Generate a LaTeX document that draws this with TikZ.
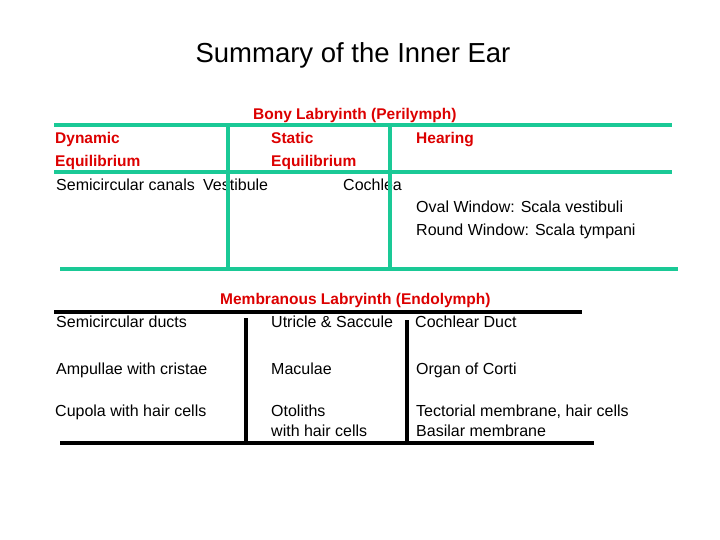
\documentclass[tikz,border=0pt]{standalone}
\usepackage{fontspec}
\setmainfont{Liberation Sans}
\definecolor{tgreen}{RGB}{26,201,150}
\definecolor{tred}{RGB}{220,0,0}
\begin{document}
\begin{tikzpicture}[x=1pt,y=-1pt,
  txt/.style={anchor=base west,inner sep=0pt,font=\fontsize{16}{18}\selectfont},
  rtxt/.style={anchor=base west,inner sep=0pt,text=tred,font=\fontsize{15.5}{18}\selectfont\bfseries},
  gline/.style={draw=tgreen,line width=4pt},
  bline/.style={draw=black,line width=4pt}]
\useasboundingbox (0,0) rectangle (720,540);
\node[anchor=base,inner sep=0pt,font=\fontsize{27.5}{32}\selectfont] (title) at (353,63) {Summary of the Inner Ear};
% bony
\node[rtxt] (bony) at (253,120) {Bony Labryinth (Perilymph)};
\node[rtxt] (dyn) at (55,144) {Dynamic};
\node[rtxt] (eq1) at (55,167) {Equilibrium};
\node[rtxt] (stat) at (271,144) {Static};
\node[rtxt] (eq2) at (271,167) {Equilibrium};
\node[rtxt] (hear) at (416,144) {Hearing};
\node[txt] (scc) at (56,191) {Semicircular canals};
\node[txt] (vest) at (203,191) {Vestibule};
\node[txt] (coch) at (343,191) {Cochlea};
\node[txt] (oval) at (416,213) {Oval Window: Scala vestibuli};
\node[txt] (round) at (416,236) {Round Window: Scala tympani};
% green lines
\coordinate (g1a) at (54,125); \coordinate (g1b) at (672,125);
\coordinate (g2a) at (54,172); \coordinate (g2b) at (672,172);
\coordinate (g3a) at (60,269); \coordinate (g3b) at (678,269);
\coordinate (gv1a) at (228,125); \coordinate (gv1b) at (228,268);
\coordinate (gv2a) at (390,127); \coordinate (gv2b) at (390,268);
\draw[gline] (g1a) -- (g1b);
\draw[gline] (g2a) -- (g2b);
\draw[gline] (g3a) -- (g3b);
\draw[gline] (gv1a) -- (gv1b);
\draw[gline] (gv2a) -- (gv2b);
% membranous
\node[rtxt] (memb) at (220,304) {Membranous Labryinth (Endolymph)};
\node[txt] (scd) at (56,327) {Semicircular ducts};
\node[txt] (us) at (271,327) {Utricle \& Saccule};
\node[txt] (cd) at (415,327) {Cochlear Duct};
\node[txt] (amp) at (56,374) {Ampullae with cristae};
\node[txt] (mac) at (271,374) {Maculae};
\node[txt] (org) at (416,374) {Organ of Corti};
\node[txt] (cup) at (55,416) {Cupola with hair cells};
\node[txt] (oto) at (271,416) {Otoliths};
\node[txt] (oto2) at (271,436) {with hair cells};
\node[txt] (tect) at (416,416) {Tectorial membrane, hair cells};
\node[txt] (bas) at (416,436) {Basilar membrane};
\coordinate (b1a) at (54,312); \coordinate (b1b) at (582,312);
\coordinate (b2a) at (60,443); \coordinate (b2b) at (594,443);
\coordinate (bv1a) at (246,318); \coordinate (bv1b) at (246,443);
\coordinate (bv2a) at (407,320); \coordinate (bv2b) at (407,443);
\draw[bline] (b1a) -- (b1b);
\draw[bline] (b2a) -- (b2b);
\draw[bline] (bv1a) -- (bv1b);
\draw[bline] (bv2a) -- (bv2b);
\end{tikzpicture}
\end{document}
